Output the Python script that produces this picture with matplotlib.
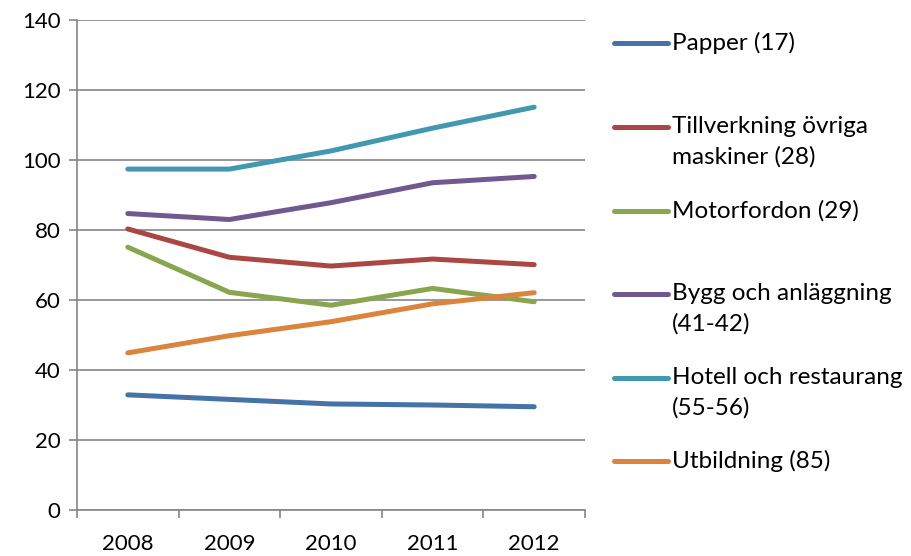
import matplotlib.pyplot as plt
from matplotlib.lines import Line2D

years = ["2008", "2009", "2010", "2011", "2012"]
papper = [32.9, 31.6, 30.3, 30.0, 29.5]
tillverkning = [80.3, 72.2, 69.7, 71.7, 70.1]
motorfordon = [75.1, 62.2, 58.5, 63.3, 59.5]
bygg = [84.7, 83.0, 87.8, 93.5, 95.3]
hotell = [97.4, 97.4, 102.6, 109.1, 115.1]
utbildning = [44.9, 49.8, 53.8, 58.9, 62.1]

labels = ["Papper (17)", "Tillverkning övriga\nmaskiner (28)", "Motorfordon (29)",
          "Bygg och anläggning\n(41-42)", "Hotell och restaurang\n(55-56)", "Utbildning (85)"]
series = [papper, tillverkning, motorfordon, bygg, hotell, utbildning]
colors = ["#4572A7", "#AA4643", "#89A54E", "#71588F", "#4198AF", "#DB843D"]

plt.rcParams['font.family'] = ['Lato', 'DejaVu Sans']
grid_c = "#868686"

fig = plt.figure(figsize=(9.11, 5.56), dpi=100)
ax = fig.add_axes([77 / 911, 46 / 556, 508 / 911, 490 / 556])

x = list(range(len(years)))
for vals, c in zip(series, colors):
    ax.plot(x, vals, color=c, lw=3.6, solid_capstyle='round', solid_joinstyle='round', zorder=3)

ax.set_xlim(-0.5, len(years) - 0.5)
ax.set_ylim(0, 140)
ax.set_yticks(range(0, 141, 20))
ax.set_xticks(x)
ax.set_xticklabels(years)
ax.set_xticks([i - 0.5 for i in range(len(years) + 1)], minor=True)
ax.tick_params(axis='x', which='major', length=0, pad=17, labelsize=16)
ax.tick_params(axis='x', which='minor', length=6, width=1.2, color=grid_c, direction='out')
ax.tick_params(axis='y', length=6, width=1.2, color=grid_c, direction='out', pad=6, labelsize=16)
ax.yaxis.grid(True, color=grid_c, lw=1.2)
ax.set_axisbelow(True)
for s in ['top', 'right']:
    ax.spines[s].set_visible(False)
for s in ['left', 'bottom']:
    ax.spines[s].set_color(grid_c)
    ax.spines[s].set_linewidth(1.2)

# legend, drawn by hand so the swatch sits on the first line of text
slot_y = [43, 127, 211, 294, 378, 461]
for lab, c, yp in zip(labels, colors, slot_y):
    fy = 1 - yp / 556
    fig.add_artist(Line2D([614 / 911, 668 / 911], [fy, fy], color=c, lw=3.6,
                          solid_capstyle='round', transform=fig.transFigure))
    fig.text(672 / 911, fy + 11 / 556, lab, fontsize=17.5, va='top', ha='left',
             linespacing=1.5, transform=fig.transFigure)

fig.savefig("out.png", dpi=100)
